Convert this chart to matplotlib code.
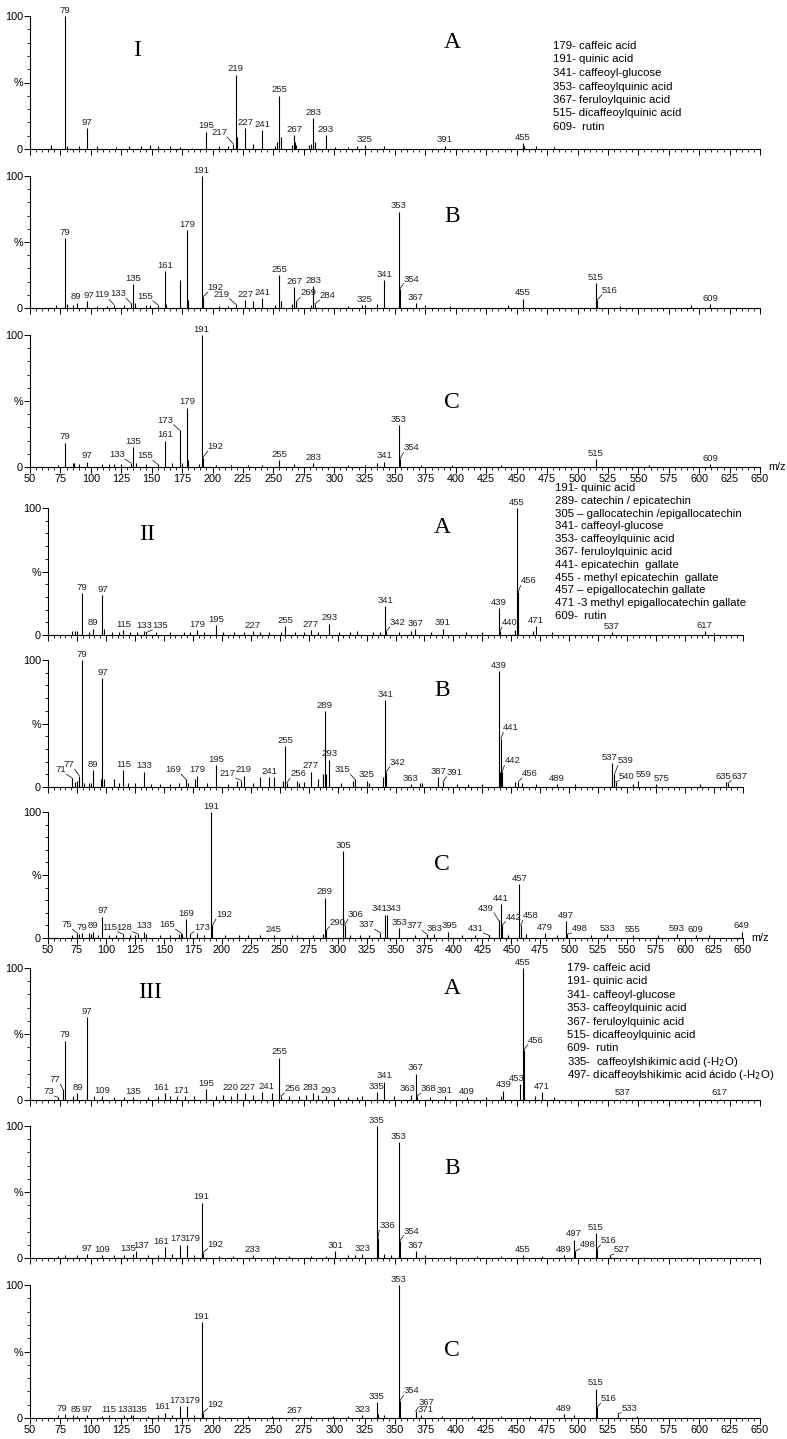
import matplotlib
matplotlib.use('Agg')
import matplotlib.pyplot as plt
import numpy as np

W, H = 787, 1439
plt.rcParams['font.family'] = ['Liberation Sans', 'DejaVu Sans']

# ---------------- data: group I ----------------
IA_MZ = [67, 79, 80, 90, 97, 105, 121, 131, 141, 149, 155, 165, 173, 183, 195, 205, 213, 217, 219, 220,
         227, 233, 241, 251, 253, 255, 256, 265, 267, 268, 269, 279, 281, 283, 284, 293, 301, 311, 319,
         325, 341, 391, 455, 456, 466, 481]
IA_INT = [3, 100, 2, 2, 15.5, 2, 1.5, 2, 2.5, 3, 2.5, 2, 1.5, 1, 13, 2, 2, 4, 56, 9,
          15.5, 4, 14, 2, 5, 40, 9, 3, 10.5, 5, 3, 3, 4, 23, 5, 10.5, 1.5, 1.5, 2,
          3, 2, 2.5, 4.5, 2, 2, 1.5]
IA_LAB = [79, 97, 195, 217, 219, 227, 241, 255, 267, 283, 293, 325, 391, 455]

IB_MZ = [71, 79, 80, 85, 89, 97, 105, 113, 119, 127, 133, 135, 136, 145, 149, 155, 161, 162, 173, 179,
         180, 191, 192, 205, 213, 219, 227, 233, 241, 251, 255, 256, 265, 267, 269, 281, 283, 284, 311,
         323, 325, 335, 341, 353, 354, 367, 375, 395, 443, 455, 515, 516, 535, 593, 609]
IB_INT = [2, 53, 3, 2, 4, 5, 1.5, 1.5, 2.5, 2, 3.5, 18, 4, 2, 2, 2.5, 28, 3, 21.5, 59,
          6, 100, 8, 1.5, 1.5, 3, 6, 5, 7.5, 2, 25, 5, 3, 16, 5, 2, 16.5, 3, 1.5,
          2, 2, 3, 21, 73, 14.5, 3.5, 2, 1.5, 2, 7, 19, 6, 1.5, 2, 3]
IB_LAB = [79, 89, 97, 119, 133, 135, 155, 161, 179, 191, 192, 219, 227, 241, 255, 267, 269, 283, 284,
          325, 341, 353, 354, 367, 455, 515, 516, 609]

IC_MZ = [73, 79, 85, 86, 90, 97, 109, 115, 119, 125, 133, 135, 137, 145, 155, 161, 167, 173, 175, 179,
         180, 189, 191, 192, 203, 215, 229, 241, 255, 267, 283, 311, 325, 335, 341, 353, 354, 371, 397,
         437, 515, 559, 609]
IC_INT = [1.5, 18.5, 3, 3, 2, 4, 2, 2, 2, 2, 3, 15, 3, 2, 2, 20, 3, 28, 3, 45,
          5, 2, 100, 7, 1.5, 1.5, 1.5, 1.5, 5, 2, 3, 1.5, 1.5, 3, 4, 31.5, 6, 1.5, 1.5,
          1.5, 6, 1.5, 2]
IC_LAB = [79, 97, 133, 135, 155, 161, 173, 179, 191, 192, 255, 283, 341, 353, 354, 515, 609]

# ---------------- data: group II ----------------
IIA_MZ = [71, 73, 75, 79, 85, 89, 97, 98, 105, 111, 115, 121, 127, 133, 135, 143, 155, 167, 173, 179,
          185, 195, 201, 211, 219, 227, 233, 241, 251, 255, 263, 271, 277, 283, 293, 301, 311, 317, 331,
          337, 341, 342, 353, 363, 367, 381, 391, 411, 425, 439, 440, 453, 455, 456, 469, 471, 485, 537,
          617, 625]
IIA_INT = [3, 3, 3, 33, 2, 5, 31.5, 5, 2, 2, 4, 2, 2, 3, 2, 2, 2, 2, 2, 4,
           2.5, 8, 2, 2, 2.5, 3, 2, 2.5, 2, 7, 2, 2.5, 4, 2, 9, 2, 2, 3, 2,
           2, 23, 3, 2, 3, 4.5, 2, 5, 2, 2, 21, 3, 4, 100, 34, 3, 7, 2, 2,
           3, 1.5]
IIA_LAB = [79, 89, 97, 115, 133, 135, 179, 195, 227, 255, 277, 293, 341, 342, 367, 391, 439, 440, 455,
           456, 471, 537, 617]

IIB_MZ = [71, 73, 75, 77, 79, 81, 85, 87, 89, 96, 97, 98, 107, 111, 115, 119, 125, 133, 139, 147,
          155, 163, 169, 171, 177, 179, 187, 195, 205, 213, 217, 219, 227, 233, 241, 245, 253, 255, 256,
          265, 267, 271, 277, 283, 287, 289, 290, 293, 303, 313, 315, 325, 327, 339, 341, 342, 363, 371,
          373, 387, 391, 403, 413, 425, 439, 440, 441, 442, 453, 456, 459, 471, 489, 505, 537, 539, 540,
          555, 559, 575, 613, 635, 637]
IIB_INT = [7, 4, 5, 9, 100, 3, 3, 3, 13.5, 6, 86, 6, 6, 3, 13.5, 3, 3, 12, 2, 2,
           2, 3, 6, 3, 6, 9, 3, 17, 2, 5, 5, 9, 3, 8, 8, 8, 5, 32, 3,
           5, 3, 4, 12, 6, 10, 59.5, 10, 21.5, 3, 5, 6, 5, 3, 8, 68.5, 12, 2, 3,
           3, 8, 4, 2, 2, 2, 91, 12, 38, 12, 4, 4, 3, 2, 2, 2, 19, 10, 4,
           2, 5, 2, 2, 4, 3]
IIB_LAB = [71, 77, 79, 89, 97, 115, 133, 169, 179, 195, 217, 219, 241, 255, 256, 277, 289, 293, 315,
           325, 341, 342, 363, 387, 391, 439, 441, 442, 456, 489, 537, 539, 540, 559, 575, 635, 637]

IIC_MZ = [71, 75, 77, 79, 85, 87, 89, 93, 97, 103, 109, 115, 121, 125, 128, 133, 135, 147, 155, 163,
          165, 166, 169, 173, 179, 185, 191, 192, 203, 215, 223, 233, 245, 261, 265, 279, 287, 289, 290,
          305, 306, 311, 319, 327, 337, 341, 343, 353, 367, 377, 383, 395, 407, 419, 431, 439, 441, 442,
          447, 457, 458, 463, 479, 489, 497, 498, 519, 533, 555, 577, 593, 609, 621, 649]
IIC_INT = [2, 4, 3, 4, 4, 3, 5, 2, 17, 2, 2, 3, 2, 2, 3, 5, 3, 2, 2, 3,
           4, 3, 15, 3, 4, 2, 100, 10, 2, 2, 2, 2, 2.5, 2, 2, 2, 3, 32, 6,
           69, 10, 2, 2, 2, 4, 18.5, 18.5, 8, 2, 3, 3, 5, 2, 2, 2, 14, 27, 10,
           2, 43, 10, 3, 4, 2, 13.5, 3, 2, 3, 2, 2, 3, 2, 2, 5]
IIC_LAB = [75, 79, 89, 97, 115, 128, 133, 165, 169, 173, 191, 192, 245, 289, 290, 305, 306, 337, 341,
           343, 353, 377, 383, 395, 431, 439, 441, 442, 457, 458, 479, 497, 498, 533, 555, 593, 609, 649]

# ---------------- data: group III ----------------
IIIA_MZ = [73, 77, 79, 85, 89, 97, 103, 109, 119, 127, 135, 147, 155, 161, 165, 171, 177, 185, 195, 203,
           209, 215, 220, 227, 233, 241, 249, 255, 256, 263, 271, 277, 283, 287, 293, 303, 311, 319, 323,
           335, 341, 349, 363, 367, 368, 379, 391, 409, 425, 437, 439, 453, 455, 456, 465, 471, 481, 537,
           617]
IIIA_INT = [2, 8, 45, 3, 5, 63, 3, 3, 2, 2, 2, 2, 3, 5, 3, 3, 3, 3, 8, 3,
            4, 3, 5, 5, 4, 6, 5, 32, 3, 3, 3, 4, 5, 4, 3, 2, 2, 2, 3,
            6, 14, 3, 4, 20, 3, 2, 3, 2, 2, 3, 7, 12, 100, 38, 3, 6, 2, 1,
            1]
IIIA_LAB = [73, 77, 79, 89, 97, 109, 135, 161, 171, 195, 220, 227, 241, 255, 256, 283, 293, 335, 341,
            363, 367, 368, 391, 409, 439, 453, 455, 456, 471, 537, 617]

IIIB_MZ = [73, 79, 89, 97, 109, 119, 127, 135, 137, 147, 155, 161, 167, 173, 179, 185, 191, 192, 205, 217,
           233, 251, 263, 281, 293, 301, 311, 317, 323, 335, 336, 341, 347, 353, 354, 367, 375, 395, 417,
           437, 455, 471, 489, 497, 498, 515, 516, 527, 555, 593]
IIIB_INT = [1.5, 2, 2, 3, 2, 2, 2, 3, 5, 2, 2, 8, 3, 10, 10, 2, 42, 4, 1.5, 1.5,
            2, 1.5, 1.5, 1.5, 1.5, 5, 2, 2, 3, 100, 15, 3, 2, 88, 13, 5, 2, 1.5, 1.5,
            1.5, 2, 1.5, 2, 14, 5, 19, 7, 2, 1, 1]
IIIB_LAB = [97, 109, 135, 137, 161, 173, 179, 191, 192, 233, 301, 323, 335, 336, 353, 354, 367, 455,
            489, 497, 498, 515, 516, 527]

IIIC_MZ = [73, 79, 85, 89, 97, 109, 115, 127, 133, 135, 147, 155, 161, 167, 173, 179, 185, 191, 192, 205,
           229, 249, 267, 281, 299, 311, 323, 335, 336, 341, 353, 354, 367, 371, 389, 413, 437, 461, 489,
           497, 515, 516, 533, 549]
IIIC_INT = [2, 3, 2, 1.5, 2, 1.5, 2, 2, 2, 2, 1.5, 2, 4, 2, 9, 9, 2, 72, 4, 1.5,
            1.5, 1.5, 1, 1.5, 1.5, 1.5, 2, 12, 3, 2, 100, 13, 5, 2, 1.5, 1.5, 1.5, 1.5, 3,
            2, 22, 8, 3, 1.5]
IIIC_LAB = [79, 85, 97, 115, 133, 135, 161, 173, 179, 191, 192, 267, 323, 335, 353, 354, 367, 371,
            489, 515, 516, 533]

LIST_I = ["179- caffeic acid", "191- quinic acid", "341- caffeoyl-glucose", "353- caffeoylquinic acid",
          "367- feruloylquinic acid", "515- dicaffeoylquinic acid", "609-  rutin"]
LIST_II = ["191- quinic acid", "289- catechin / epicatechin", "305 \u2013 gallocatechin /epigallocatechin",
           "341- caffeoyl-glucose", "353- caffeoylquinic acid", "367- feruloylquinic acid",
           "441- epicatechin  gallate", "455 - methyl epicatechin  gallate",
           "457 \u2013 epigallocatechin gallate", "471 -3 methyl epigallocatechin gallate", "609-  rutin"]
LIST_III = ["179- caffeic acid", "191- quinic acid", "341- caffeoyl-glucose", "353- caffeoylquinic acid",
            "367- feruloylquinic acid", "515- dicaffeoylquinic acid", "609-  rutin",
            "335-  caffeoylshikimic acid (-H$_2$O)", "497- dicaffeoylshikimic acid \u00e1cido (-H$_2$O)"]

# ---------------- label styling: leader offsets (dx m/z, dy %) and plain x-nudges ----------------
LEAD_IA = {217: (-5, 5)}
LEAD_IB = {119: (-4, 4), 133: (-4, 4), 155: (-4, 3), 192: (4, 4), 219: (-5, 4), 269: (3, 3),
           284: (4, 3), 354: (3, 4), 516: (4, 4)}
LEAD_IC = {133: (-5, 3), 155: (-4, 3), 173: (-5, 4), 192: (4, 5), 354: (3, 5)}
LEAD_IIA = {135: (5, 2), 342: (3, 3), 440: (2, 3), 456: (2, 5)}
LEAD_IIB = {71: (-5, 3), 77: (-4, 5), 169: (-4, 4), 217: (-5, 2), 256: (3, 4), 315: (-4, 4),
            342: (3, 4), 391: (3, 4), 441: (2, 5), 442: (2, 5), 456: (3, 3), 539: (3, 7),
            540: (3, 1), 637: (3, 2)}
LEAD_IIC = {75: (-4, 3), 115: (-5, 2), 128: (-5, 2), 165: (-5, 3), 173: (3, 2), 192: (3, 5),
            290: (3, 3), 306: (3, 5), 337: (-5, 3), 377: (-4, 3), 431: (-5, 2), 439: (-4, 6),
            442: (3, 3), 458: (2, 4), 498: (4, 1)}
LEAD_IIIA = {73: (-3, 1), 77: (-2, 4), 256: (3, 2), 368: (3, 2), 456: (3, 4)}
LEAD_IIIB = {192: (4, 3), 336: (1, 6), 354: (3, 4), 498: (4, 2), 516: (3, 3), 527: (3, 1)}
LEAD_IIIC = {192: (4, 3), 354: (3, 4), 367: (2, 3), 516: (3, 3), 533: (3, 1)}

NUDGE_IB = {89: -1.5, 97: 1.5}
NUDGE_IIB = {537: -2, 559: 5, 575: 5, 635: -2}
NUDGE_IIC = {341: -5, 343: 5, 383: 1, 395: 2}
NUDGE_IIIA = {161: -3, 171: 3, 220: -5, 227: 1.5, 241: 3.5, 283: -2.5, 293: 2.5, 363: -3, 453: -3}
NUDGE_IIIB = {135: -4.5, 137: 4.5, 161: -3.5, 173: -1.5, 179: 4.5}
NUDGE_IIIC = {79: -2.5, 85: 2.5, 133: -4.5, 135: 4.5, 161: -2, 173: -2, 179: 4, 371: 4}

fig = plt.figure(figsize=(W / 100, H / 100), dpi=100)

LABEL_FS = 6.8
TICK_FS = 7.8


def add_axes(left, right, top, bottom):
    return fig.add_axes([left / W, 1 - bottom / H, (right - left) / W, (bottom - top) / H])


def ftext(x, y, s, **kw):
    fig.text(x / W, 1 - y / H, s, **kw)


def panel(ax, mz, inten, labels, leaders, nudges=None, xlabels=False, mzlabel=False):
    nudges = nudges or {}
    ax.vlines(mz, 0, inten, color='black', lw=0.8)
    d = dict(zip(mz, inten))
    for m in labels:
        y = d[m]
        if m in leaders:
            dx, dy = leaders[m]
            x2, y2 = m + dx, y + dy
            ax.plot([m, x2], [y, y2], color='black', lw=0.5, clip_on=False)
            ha = 'left' if dx > 0 else ('right' if dx < 0 else 'center')
            ax.text(x2, y2, str(m), ha=ha, va='bottom', fontsize=LABEL_FS, color='#222222',
                    clip_on=False)
        else:
            ax.text(m + nudges.get(m, 0), y + 1.0, str(m), ha='center', va='bottom',
                    fontsize=LABEL_FS, color='#222222', clip_on=False)
    ax.set_xlim(50, 650)
    ax.set_ylim(0, 100)
    for s in ['top', 'right']:
        ax.spines[s].set_visible(False)
    for s in ['left', 'bottom']:
        ax.spines[s].set_linewidth(0.8)
    ax.set_xticks(np.arange(50, 651, 25))
    ax.set_xticks(np.arange(50, 651, 5), minor=True)
    ax.set_yticks([0, 50, 100])
    ax.set_yticklabels(['0', '%', '100'])
    ax.set_yticks(np.arange(0, 101, 10), minor=True)
    ax.tick_params(axis='both', which='major', direction='out', length=4, width=0.7,
                   labelsize=TICK_FS, pad=1)
    ax.tick_params(axis='both', which='minor', direction='out', length=2, width=0.6)
    if not xlabels:
        ax.tick_params(axis='x', labelbottom=False)
    if mzlabel:
        ax.text(1.012, 0.0, 'm/z', transform=ax.transAxes, ha='left', va='center',
                fontsize=TICK_FS)


SERIF = dict(family=['Liberation Serif', 'DejaVu Serif'], fontsize=17, ha='center', va='center')
LIST_FS = 8.2

# group I
ax = add_axes(30, 760, 16, 149)
panel(ax, IA_MZ, IA_INT, IA_LAB, LEAD_IA)
ax = add_axes(30, 760, 176, 308)
panel(ax, IB_MZ, IB_INT, IB_LAB, LEAD_IB, NUDGE_IB)
ax = add_axes(30, 760, 335, 467)
panel(ax, IC_MZ, IC_INT, IC_LAB, LEAD_IC, xlabels=True, mzlabel=True)
ftext(137, 51, 'I', **SERIF)
ftext(452, 42, 'A', **SERIF)
ftext(452, 217, 'B', **SERIF)
ftext(452, 403, 'C', **SERIF)
for i, s in enumerate(LIST_I):
    ftext(553, 46 + i * 13.5, s, fontsize=LIST_FS, ha='left', va='center')

# group II
ax = add_axes(48, 743, 508, 635)
panel(ax, IIA_MZ, IIA_INT, IIA_LAB, LEAD_IIA)
ax = add_axes(48, 743, 660, 787)
panel(ax, IIB_MZ, IIB_INT, IIB_LAB, LEAD_IIB, NUDGE_IIB)
ax = add_axes(48, 743, 812, 938)
panel(ax, IIC_MZ, IIC_INT, IIC_LAB, LEAD_IIC, NUDGE_IIC, xlabels=True, mzlabel=True)
ftext(147, 535, 'II', **SERIF)
ftext(442, 527, 'A', **SERIF)
ftext(442, 690, 'B', **SERIF)
ftext(442, 865, 'C', **SERIF)
for i, s in enumerate(LIST_II):
    ftext(555, 488 + i * 12.8, s, fontsize=LIST_FS, ha='left', va='center')

# group III
ax = add_axes(30, 760, 968, 1100)
panel(ax, IIIA_MZ, IIIA_INT, IIIA_LAB, LEAD_IIIA, NUDGE_IIIA)
ax = add_axes(30, 760, 1126, 1258)
panel(ax, IIIB_MZ, IIIB_INT, IIIB_LAB, LEAD_IIIB, NUDGE_IIIB)
ax = add_axes(30, 760, 1285, 1418)
panel(ax, IIIC_MZ, IIIC_INT, IIIC_LAB, LEAD_IIIC, NUDGE_IIIC, xlabels=True)
ftext(150, 992, 'III', **SERIF)
ftext(452, 988, 'A', **SERIF)
ftext(452, 1168, 'B', **SERIF)
ftext(452, 1350, 'C', **SERIF)
for i, s in enumerate(LIST_III):
    ftext(567, 968 + i * 13.4, s, fontsize=LIST_FS, ha='left', va='center')

fig.savefig('out.png', dpi=100)
